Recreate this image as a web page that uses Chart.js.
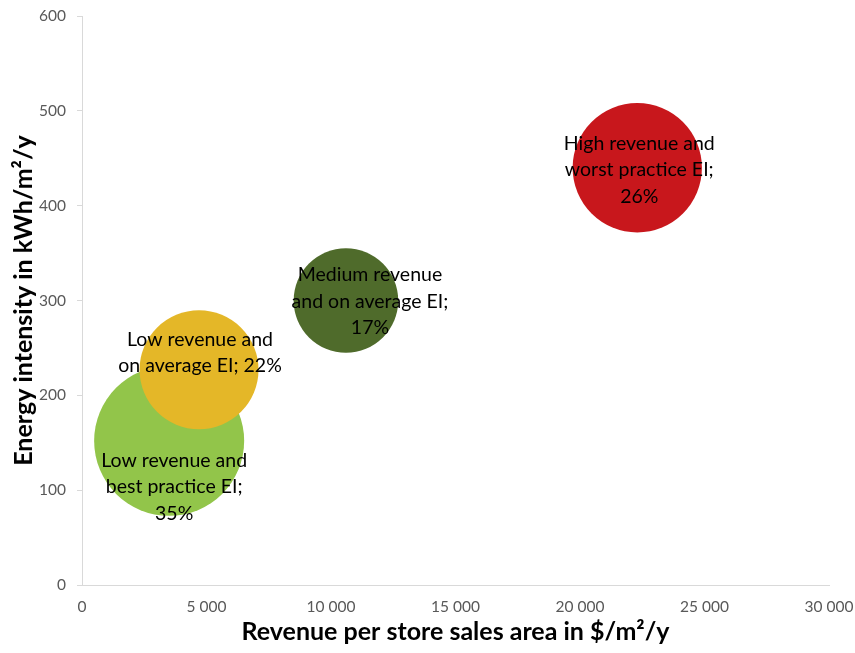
<!DOCTYPE html>
<html>
<head>
<meta charset="utf-8">
<script src="https://cdn.jsdelivr.net/npm/chart.js@4"></script>
<style>
  html, body { margin: 0; padding: 0; background: #fff; }
  #wrap { width: 855px; height: 653px; }
</style>
</head>
<body>
<div id="wrap"><canvas id="chart" width="855" height="653"></canvas></div>
<script>
// store segments: revenue per sales area vs energy intensity, bubble = share of stores
const SEGMENTS = ['low-best', 'low-average', 'medium-average', 'high-worst']
const REVENUE = [3500, 4700, 10600, 22300]   // $/m²/y
const ENERGY = [152, 227, 300, 440]          // kWh/m²/y
const SHARE = [35, 22, 17, 26]               // %
const SEGMENT_LABELS = [
  ['Low revenue and', 'best practice EI;', '35%'],
  ['Low revenue and', 'on average EI; 22%'],
  ['Medium revenue', 'and on average EI;', '17%'],
  ['High revenue and', 'worst practice EI;', '26%'],
]
const X_TICKS = [0, 5000, 10000, 15000, 20000, 25000, 30000]
const Y_TICKS = [0, 100, 200, 300, 400, 500, 600]

// looks
const COLORS = ['#92C54A', '#E4B728', '#4F6B2B', '#C8171C']
const PX_PER_SQRT_SHARE = 12.68   // bubble area ~ share
const LABEL_SHIFT = [[5, 46], [1, -17], [24, 1], [2, 2]]  // px, labels were moved by hand
const FONT = 'Lato, "Noto Sans", sans-serif'

const $ = id => document.getElementById(id)
const spaced = v => String(v).replace(/\B(?=(\d{3})+(?!\d))/g, ' ')

const bubbleLabels = {
  id: 'bubbleLabels',
  afterDatasetsDraw(chart) {
    const { ctx } = chart
    const meta = chart.getDatasetMeta(0)
    ctx.save()
    ctx.font = `19.5px ${FONT}`
    ctx.fillStyle = '#000'
    ctx.textAlign = 'center'
    ctx.textBaseline = 'middle'
    const lh = 26.5
    meta.data.forEach((pt, i) => {
      const lines = SEGMENT_LABELS[i]
      const [dx, dy] = LABEL_SHIFT[i]
      const y0 = pt.y + dy - (lines.length - 1) * lh / 2
      lines.forEach((line, j) => ctx.fillText(line, pt.x + dx, y0 + j * lh))
    })
    ctx.restore()
  },
}

new Chart($('chart'), {
  type: 'bubble',
  data: {
    datasets: [{
      label: 'segments',
      data: SEGMENTS.map((_, i) => ({
        x: REVENUE[i],
        y: ENERGY[i],
        r: PX_PER_SQRT_SHARE * Math.sqrt(SHARE[i]),
      })),
      backgroundColor: COLORS,
      borderWidth: 0,
      hoverRadius: 0,
      clip: false,
    }],
  },
  options: {
    responsive: false,
    animation: false,
    events: [],
    layout: { autoPadding: false, padding: { top: 16, right: 26, left: 0, bottom: 0 } },
    plugins: {
      legend: { display: false },
      tooltip: { enabled: false },
    },
    scales: {
      x: {
        type: 'linear',
        min: 0,
        max: 30000,
        afterBuildTicks: s => { s.ticks = X_TICKS.map(v => ({ value: v })) },
        afterFit: s => { s.height = 68; s.paddingLeft = 0; s.paddingRight = 0 },
        ticks: {
          padding: 13,
          color: '#595959',
          font: { family: FONT, size: 15.5 },
          callback: v => spaced(v),
        },
        grid: { drawOnChartArea: false, drawTicks: false },
        border: { color: '#D9D9D9', width: 1 },
        title: {
          display: true,
          text: 'Revenue per store sales area in $/m²/y',
          color: '#000',
          font: { family: FONT, size: 25, weight: 'bold' },
          padding: { top: 0, bottom: 6 },
        },
      },
      y: {
        type: 'linear',
        min: 0,
        max: 600,
        afterBuildTicks: s => { s.ticks = Y_TICKS.map(v => ({ value: v })) },
        afterFit: s => { s.width = 82; s.paddingTop = 0; s.paddingBottom = 0 },
        ticks: {
          padding: 11,
          color: '#595959',
          font: { family: FONT, size: 15.5 },
        },
        grid: { drawOnChartArea: false, drawTicks: true, tickLength: 5, color: '#D9D9D9' },
        border: { color: '#D9D9D9', width: 1 },
        title: {
          display: true,
          text: 'Energy intensity in kWh/m²/y',
          color: '#000',
          font: { family: FONT, size: 25, weight: 'bold' },
          padding: { top: 9, bottom: 0 },
        },
      },
    },
  },
  plugins: [bubbleLabels],
})
</script>
</body>
</html>
